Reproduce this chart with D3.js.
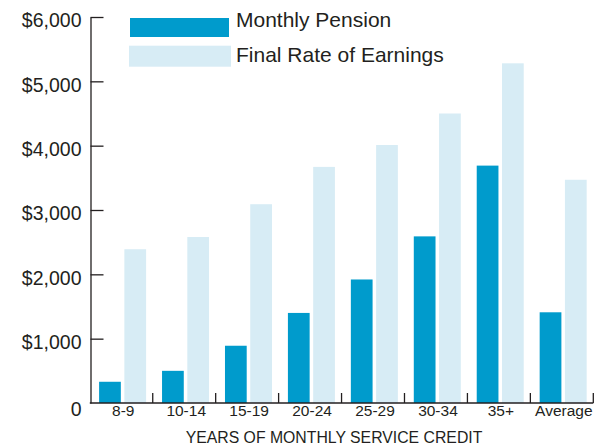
<!DOCTYPE html>
<html>
<head>
<meta charset="utf-8">
<script src="https://cdn.jsdelivr.net/npm/d3@7"></script>
<style>
  html, body { margin: 0; padding: 0; background: #fff; }
  svg { display: block; font-family: "Liberation Sans", Arial, Helvetica, sans-serif; }
</style>
</head>
<body>
<svg id="chart" width="600" height="444"></svg>
<script>
const categories = ["8-9", "10-14", "15-19", "20-24", "25-29", "30-34", "35+", "Average"];
const seriesNames = ["Monthly Pension", "Final Rate of Earnings"];
const monthlyPension = [330, 500, 890, 1400, 1920, 2590, 3690, 1410];
const finalRateOfEarnings = [2390, 2580, 3090, 3670, 4010, 4500, 5280, 3470];
const yTicks = [0, 1000, 2000, 3000, 4000, 5000, 6000];
const xTitle = "YEARS OF MONTHLY SERVICE CREDIT";
const colors = ["#009bcc", "#d7ecf5"];

const svg = d3.select("#chart");
const ink = "#231f20";

const y = d3.scaleLinear().domain([0, 6000]).range([403, 17]);
const x = d3.scaleBand().domain(categories).range([89.8, 593.3]).paddingInner(0).paddingOuter(0);
const xs = d3.scaleBand().domain(seriesNames).range([9.3, 56.3]).paddingInner(0.14).paddingOuter(0);

const data = categories.map((c, i) => ({cat: c, values: [monthlyPension[i], finalRateOfEarnings[i]]}));

// bars
const groups = svg.append("g").selectAll("g").data(data).join("g")
  .attr("transform", d => `translate(${x(d.cat)},0)`);
groups.selectAll("rect").data(d => d.values.map((v, j) => ({name: seriesNames[j], v, j})))
  .join("rect")
  .attr("x", d => xs(d.name))
  .attr("width", xs.bandwidth())
  .attr("y", d => y(d.v))
  .attr("height", d => y(0) - y(d.v))
  .attr("fill", d => colors[d.j]);

// y axis
const yAxis = d3.axisLeft(y).tickValues(yTicks)
  .tickSizeInner(-13).tickSizeOuter(0).tickPadding(9)
  .tickFormat(d => d === 0 ? "0" : "$" + d3.format(",")(d));
const gy = svg.append("g").attr("transform", "translate(90.5,0)").call(yAxis);
gy.select(".domain").attr("stroke", ink).attr("stroke-width", 1.3);
gy.selectAll(".tick line").attr("stroke", ink).attr("stroke-width", 1.3)
  .filter(d => d === 0).remove();
gy.selectAll(".tick text").attr("fill", ink).attr("font-size", "19.5px")
  .attr("dy", "0.5em")
  .filter(d => d === 0).attr("dy", "0.65em");

// x axis baseline and separators
const base = y(0);
const xg = svg.append("g");
xg.append("line").attr("x1", 89.8).attr("x2", x.range()[1]).attr("y1", base).attr("y2", base)
  .attr("stroke", ink).attr("stroke-width", 1.3);
const seps = categories.slice(1).map(c => x(c)).concat([x.range()[1]]);
xg.selectAll("line.sep").data(seps).join("line").attr("class", "sep")
  .attr("x1", d => d).attr("x2", d => d).attr("y1", base).attr("y2", base - 10)
  .attr("stroke", ink).attr("stroke-width", 1.3);
xg.selectAll("text").data(categories).join("text")
  .attr("x", d => x(d) + x.bandwidth() / 2 + 2)
  .attr("y", 416)
  .attr("text-anchor", "middle")
  .attr("font-size", "15.5px")
  .attr("fill", ink)
  .text(d => d);

svg.append("text").attr("x", 334).attr("y", 442.5).attr("text-anchor", "middle")
  .attr("font-size", "15.8px").attr("fill", ink).text(xTitle);

// legend
const legend = svg.append("g");
const legendRows = [
  {name: seriesNames[0], color: colors[0], rx: 130, ry: 18, rw: 99, rh: 19, ty: 26.7},
  {name: seriesNames[1], color: colors[1], rx: 129, ry: 45.7, rw: 102, rh: 21, ty: 61.7}
];
legend.selectAll("rect").data(legendRows).join("rect")
  .attr("x", d => d.rx).attr("y", d => d.ry).attr("width", d => d.rw).attr("height", d => d.rh)
  .attr("fill", d => d.color);
legend.selectAll("text").data(legendRows).join("text")
  .attr("x", 236).attr("y", d => d.ty).attr("font-size", "21px").attr("fill", ink)
  .text(d => d.name);
</script>
</body>
</html>
